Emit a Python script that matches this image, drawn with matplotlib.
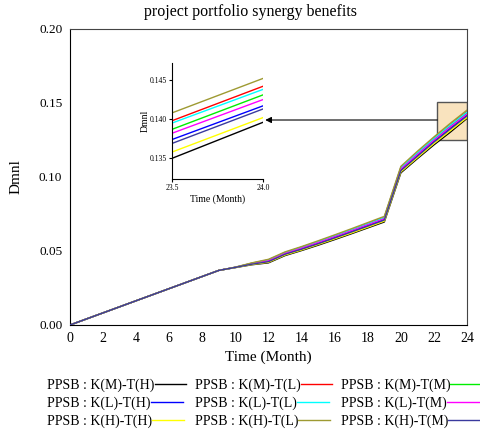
import matplotlib
matplotlib.use("Agg")
import matplotlib.pyplot as plt
from matplotlib.patches import Rectangle

plt.rcParams["font.family"] = "Liberation Serif"

# --- Data ---
months = list(range(0, 25))
ramp = [0.0, 0.0041, 0.0082, 0.0123, 0.0164, 0.0205, 0.0246, 0.0287, 0.0328, 0.0369]

series_names = [
    "PPSB : K(M)-T(H)", "PPSB : K(M)-T(L)", "PPSB : K(M)-T(M)",
    "PPSB : K(L)-T(H)", "PPSB : K(L)-T(L)", "PPSB : K(L)-T(M)",
    "PPSB : K(H)-T(H)", "PPSB : K(H)-T(L)", "PPSB : K(H)-T(M)",
]
series_colors = [
    "#000000", "#ff0000", "#00ee00",
    "#0000ff", "#00ffff", "#ff00ff",
    "#ffff00", "#9e9a32", "#3a3a9e",
]

k_m_t_h = ramp + [0.0388, 0.0407, 0.0420, 0.0469, 0.0503, 0.0539, 0.0577, 0.0616,
                  0.0656, 0.0696, 0.1028, 0.1124, 0.1217, 0.1304, 0.1396]
k_m_t_l = ramp + [0.0390, 0.0418, 0.0440, 0.0490, 0.0526, 0.0564, 0.0604, 0.0644,
                  0.0686, 0.0728, 0.1064, 0.1165, 0.1262, 0.1354, 0.1442]
k_m_t_m = ramp + [0.0390, 0.0415, 0.0436, 0.0486, 0.0521, 0.0559, 0.0598, 0.0638,
                  0.0679, 0.0721, 0.1056, 0.1156, 0.1252, 0.1343, 0.1431]
k_l_t_h = ramp + [0.0389, 0.0412, 0.0430, 0.0480, 0.0515, 0.0552, 0.0591, 0.0631,
                  0.0671, 0.0713, 0.1047, 0.1145, 0.1241, 0.1331, 0.1417]
k_l_t_l = ramp + [0.0390, 0.0417, 0.0439, 0.0489, 0.0525, 0.0563, 0.0603, 0.0643,
                  0.0684, 0.0726, 0.1062, 0.1163, 0.1260, 0.1352, 0.1438]
k_l_t_m = ramp + [0.0390, 0.0414, 0.0434, 0.0484, 0.0519, 0.0557, 0.0596, 0.0636,
                  0.0677, 0.0718, 0.1053, 0.1152, 0.1248, 0.1339, 0.1425]
k_h_t_h = ramp + [0.0388, 0.0409, 0.0424, 0.0473, 0.0507, 0.0544, 0.0582, 0.0621,
                  0.0661, 0.0702, 0.1035, 0.1131, 0.1226, 0.1314, 0.1402]
k_h_t_l = ramp + [0.0391, 0.0420, 0.0444, 0.0494, 0.0530, 0.0569, 0.0609, 0.0650,
                  0.0692, 0.0734, 0.1072, 0.1174, 0.1271, 0.1364, 0.1452]
k_h_t_m = ramp + [0.0389, 0.0411, 0.0428, 0.0478, 0.0512, 0.0549, 0.0588, 0.0628,
                  0.0668, 0.0709, 0.1043, 0.1140, 0.1236, 0.1325, 0.1413]

all_series = [k_m_t_h, k_m_t_l, k_m_t_m, k_l_t_h, k_l_t_l, k_l_t_m, k_h_t_h, k_h_t_l, k_h_t_m]

x_ticks = list(range(0, 25, 2))
y_ticks = [0.00, 0.05, 0.10, 0.15, 0.20]

# --- Figure ---
fig = plt.figure(figsize=(4.81, 4.30), dpi=100)
ax = fig.add_axes([0.1455, 0.2442, 0.8255, 0.6884])

handles = []
for vals, name, col in zip(all_series, series_names, series_colors):
    (h,) = ax.plot(months, vals, color=col, lw=1.0, label=name, zorder=3)
    handles.append(h)

ax.set_xlim(0, 24)
ax.set_ylim(0, 0.20)
ax.set_xticks(x_ticks)
ax.set_yticks(y_ticks)
ax.set_yticklabels([f"{v:.2f}" for v in y_ticks])
ax.tick_params(axis="x", length=0, labelsize=10, pad=5)
ax.tick_params(axis="y", length=0, labelsize=9.5, pad=5.5)
ax.set_xlabel("Time (Month)", fontsize=11, labelpad=4)
ax.set_ylabel("Dmnl", fontsize=11, labelpad=12)
for side in ["top", "right"]:
    ax.spines[side].set_color("#444444")

fig.text(0.521, 0.972, "project portfolio synergy benefits", fontsize=11.5,
         ha="center", va="center")

# zoom box and arrow
box = Rectangle((22.2, 0.125), 1.8, 0.0257, facecolor="#f9e3be",
                edgecolor="#555555", lw=1.0, zorder=2)
ax.add_patch(box)
ax.annotate("", xy=(11.8, 0.1385), xytext=(22.2, 0.1385),
            arrowprops=dict(arrowstyle="-|>", color="black", lw=0.8,
                            mutation_scale=9, shrinkA=0, shrinkB=0))

# --- Inset ---
axin = fig.add_axes([0.3576, 0.5837, 0.1892, 0.2698])
for vals, col in zip(all_series, series_colors):
    axin.plot(months, vals, color=col, lw=1.0)
axin.set_xlim(23.5, 24.0)
axin.set_ylim(0.13236, 0.14717)
axin.set_xticks([23.5, 24.0])
axin.set_xticklabels(["23.5", "24.0"])
axin.set_yticks([0.135, 0.140, 0.145])
axin.set_yticklabels(["0.135", "0.140", "0.145"])
axin.tick_params(labelsize=5.5, length=2, pad=1.5)
axin.set_xlabel("Time (Month)", fontsize=7, labelpad=2)
axin.set_ylabel("Dmnl", fontsize=7, labelpad=0)
axin.spines["top"].set_visible(False)
axin.spines["right"].set_visible(False)

# --- Legend (row-wise order, text first then line) ---
order = [0, 3, 6, 1, 4, 7, 2, 5, 8]
leg = fig.legend([handles[i] for i in order], [series_names[i] for i in order],
                 loc="upper left", bbox_to_anchor=(0.098, 0.119), ncol=3,
                 markerfirst=False, frameon=False, fontsize=10, handlelength=2.3,
                 handletextpad=0.0, columnspacing=0.6, labelspacing=0.32,
                 borderaxespad=0, borderpad=0)
for column in leg._legend_handle_box.get_children():
    column.align = "left"

fig.savefig("out.png", dpi=100)
